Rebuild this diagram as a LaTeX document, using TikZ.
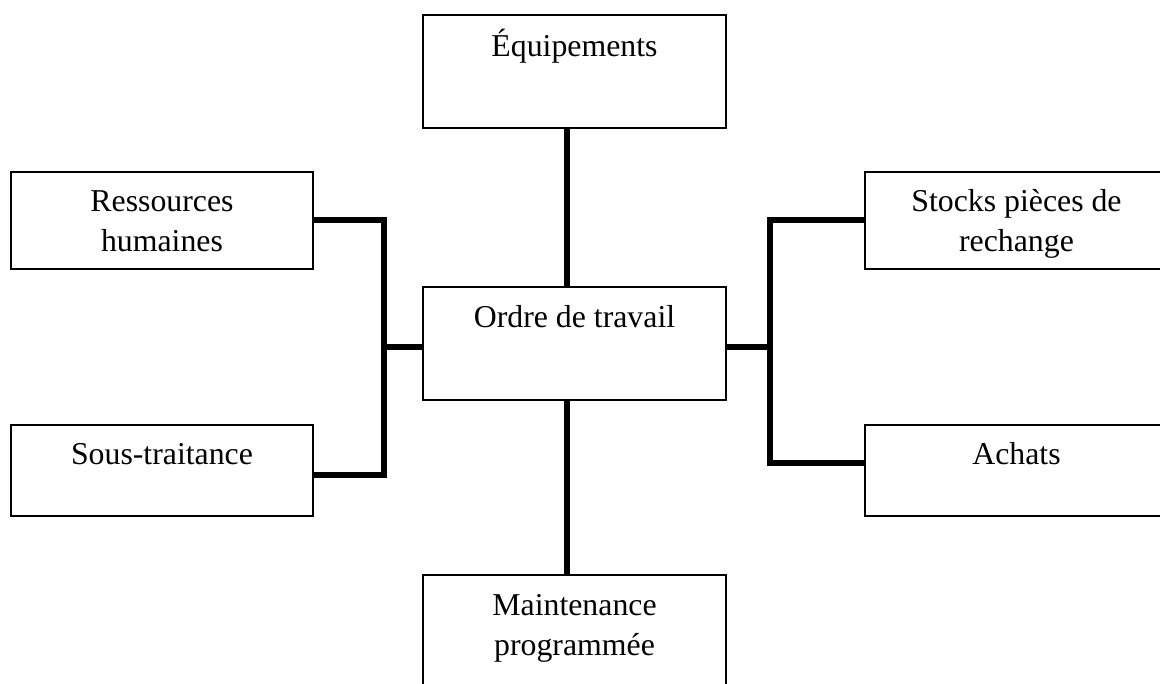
\documentclass[tikz,border=0pt]{standalone}
\usepackage{fontspec}
\setmainfont{Liberation Serif}
\begin{document}
\begin{tikzpicture}[x=1pt,y=-1pt,
  box/.style={draw, line width=1.2pt, inner sep=0pt, outer sep=0pt, anchor=north west},
  txt/.style={font=\fontsize{31.8}{40}\selectfont, inner sep=0pt, anchor=base},
  conn/.style={line width=6pt, line join=miter}]
\useasboundingbox (0,0) rectangle (1160,684);
\clip (0,0) rectangle (1160,684);

% boxes
\node[box, minimum width=303pt, minimum height=113pt] (eq)   at (423,15)  {};
\node[box, minimum width=302pt, minimum height=97pt]  (res)  at (11,172)  {};
\node[box, minimum width=302pt, minimum height=91pt]  (sous) at (11,425)  {};
\node[box, minimum width=303pt, minimum height=113pt] (ord)  at (423,287) {};
\node[box, minimum width=303pt, minimum height=97pt]  (stk)  at (865,172) {};
\node[box, minimum width=303pt, minimum height=91pt]  (ach)  at (865,425) {};
\node[box, minimum width=303pt, minimum height=120pt] (mnt)  at (423,575) {};

% texts
\node[txt] (eqt)   at (574.5,57)  {Équipements};
\node[txt] (rest1) at (162,212)   {Ressources};
\node[txt] (rest2) at (162,252)   {humaines};
\node[txt] (soust) at (162,465)   {Sous-traitance};
\node[txt] (ordt)  at (574.5,328) {Ordre de travail};
\node[txt] (stkt1) at (1016.5,212) {Stocks pièces de};
\node[txt] (stkt2) at (1016.5,252) {rechange};
\node[txt] (acht)  at (1016.5,465) {Achats};
\node[txt] (mntt1) at (574.5,615) {Maintenance};
\node[txt] (mntt2) at (574.5,655) {programmée};

% junctions
\coordinate (jl) at (383.5,347.5);
\coordinate (jr) at (769.5,347);

% connectors
\draw[conn] (res.east) -| (jl) |- ([yshift=-4.5pt]sous.east);
\draw[conn] (jl) -- ([yshift=-4pt]ord.west);
\draw[conn] (stk.west) -| (jr) |- ([yshift=7.5pt]ach.west);
\draw[conn] (jr) -- ([yshift=-3.5pt]ord.east);
\draw[conn] ([xshift=-7.5pt]eq.south) -- ([xshift=-7.5pt]ord.north);
\draw[conn] ([xshift=-7.5pt]ord.south) -- ([xshift=-7.5pt]mnt.north);
\end{tikzpicture}
\end{document}
